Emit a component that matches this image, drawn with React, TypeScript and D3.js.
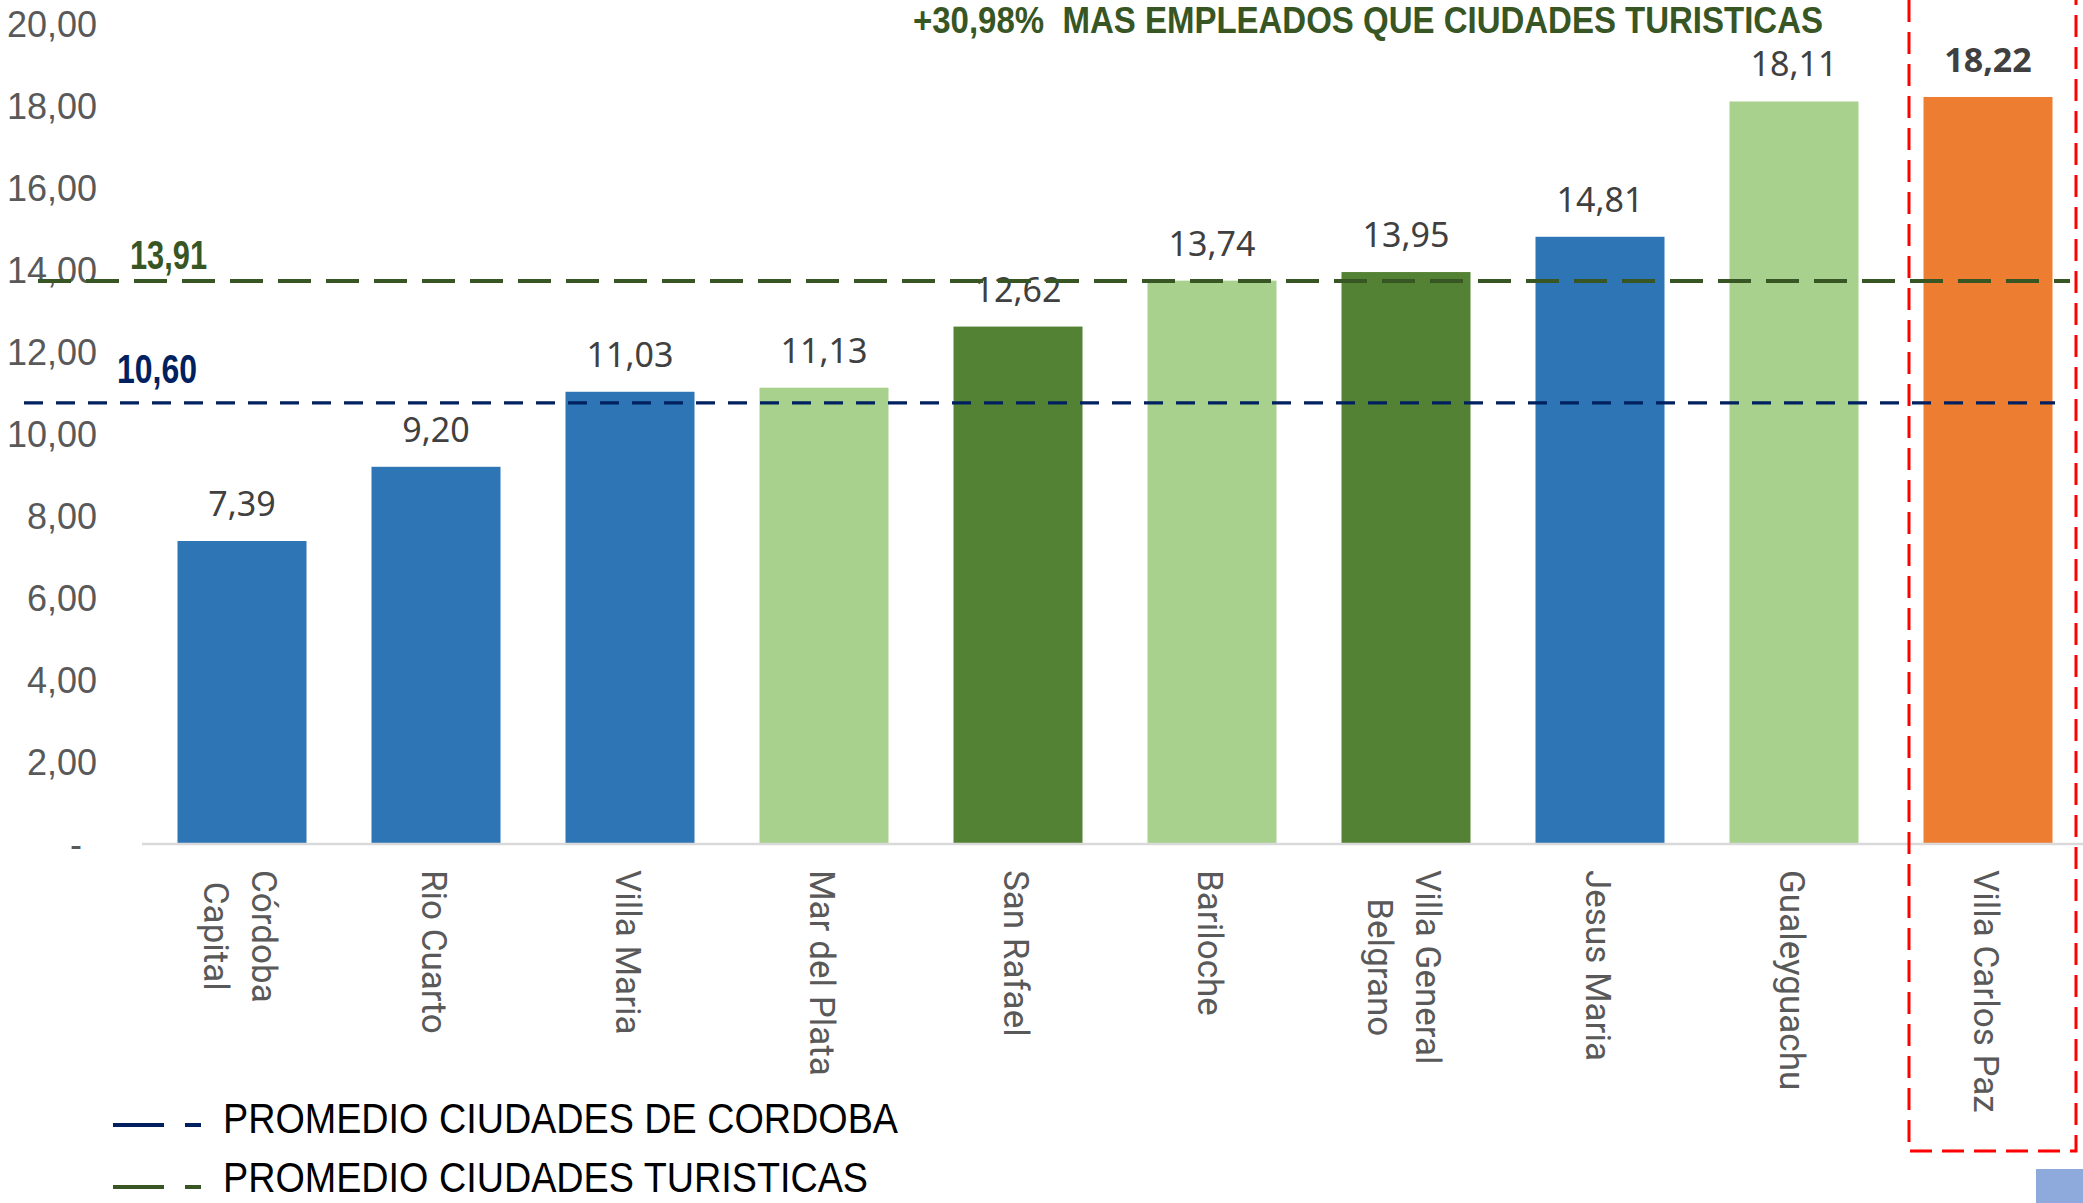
import React, { useRef, useEffect } from 'react';
import * as d3 from 'd3';

// datos del grafico
const cities = [
    'Córdoba Capital',
    'Rio Cuarto',
    'Villa Maria',
    'Mar del Plata',
    'San Rafael',
    'Bariloche',
    'Villa General Belgrano',
    'Jesus Maria',
    'Gualeyguachu',
    'Villa Carlos Paz',
];
const cityLabelLines = [
    ['Córdoba', 'Capital'],
    ['Rio Cuarto'],
    ['Villa Maria'],
    ['Mar del Plata'],
    ['San Rafael'],
    ['Bariloche'],
    ['Villa General', 'Belgrano'],
    ['Jesus Maria'],
    ['Gualeyguachu'],
    ['Villa Carlos Paz'],
];
const values = [7.39, 9.2, 11.03, 11.13, 12.62, 13.74, 13.95, 14.81, 18.11, 18.22];
const groups = ['cordoba', 'cordoba', 'cordoba', 'turClara', 'turOscura', 'turClara', 'turOscura', 'cordoba', 'turClara', 'destacada'];
const yTicks = [0, 2, 4, 6, 8, 10, 12, 14, 16, 18, 20];

const promedioCordoba = 10.6;
const promedioTuristicas = 13.91;
// en el original las lineas de promedio estan dibujadas algo corridas respecto a su etiqueta
const nivelLineaCordoba = 10.76;
const nivelLineaTuristicas = 13.73;

const titulo = '+30,98%  MAS EMPLEADOS QUE CIUDADES TURISTICAS';
const legendItems = ['PROMEDIO CIUDADES DE CORDOBA', 'PROMEDIO CIUDADES TURISTICAS'];

const groupColors = {
    cordoba: '#2E75B6',
    turClara: '#A9D18E',
    turOscura: '#548235',
    destacada: '#ED7D31',
};

const W = 2083;
const H = 1203;
const narrow = '"Liberation Sans Narrow", "Arial Narrow", "Liberation Sans", Arial, sans-serif';
const fmt = (v) => v.toFixed(2).replace('.', ',');

const App = () => {
    const svgRef = useRef(null);

    useEffect(() => {
        if (!svgRef.current) {
            return;
        }
        const svg = d3.select(svgRef.current);
        svg.selectAll('*').remove();

        const xScale = d3
            .scaleBand()
            .domain(cities)
            .range([145, W + 2])
            .paddingInner(0.335)
            .paddingOuter(0.1675);

        const yScale = d3.scaleLinear().domain([0, 20]).range([844, 24]);

        // eje y (solo etiquetas)
        svg.append('g')
            .selectAll('text')
            .data(yTicks)
            .join('text')
            .attr('x', d => (d === 0 ? 82 : 97))
            .attr('y', d => yScale(d))
            .attr('dy', '0.35em')
            .attr('text-anchor', 'end')
            .style('font-family', '"Liberation Sans", Arial, sans-serif')
            .style('font-size', '36px')
            .style('fill', '#595959')
            .text(d => (d === 0 ? '-' : fmt(d)));

        // barras
        svg.append('g')
            .selectAll('rect')
            .data(values)
            .join('rect')
            .attr('x', (d, i) => xScale(cities[i]))
            .attr('y', d => yScale(d))
            .attr('width', xScale.bandwidth())
            .attr('height', d => yScale(0) - yScale(d))
            .style('fill', (d, i) => groupColors[groups[i]]);

        // linea del eje x
        svg.append('line')
            .attr('x1', 142)
            .attr('x2', W)
            .attr('y1', yScale(0))
            .attr('y2', yScale(0))
            .style('stroke', '#D9D9D9')
            .style('stroke-width', 2.5);

        // etiquetas de valores
        svg.append('g')
            .selectAll('text')
            .data(values)
            .join('text')
            .attr('x', (d, i) => xScale(cities[i]) + xScale.bandwidth() / 2)
            .attr('y', d => yScale(d) - 25)
            .attr('text-anchor', 'middle')
            .style('font-family', '"Noto Sans", "Open Sans", sans-serif')
            .style('font-size', '34px')
            .style('font-weight', (d, i) => (groups[i] === 'destacada' ? 'bold' : 'normal'))
            .style('fill', '#404040')
            .text(d => fmt(d));

        // lineas de promedio
        svg.append('line')
            .attr('x1', 24)
            .attr('x2', 2055)
            .attr('y1', yScale(nivelLineaCordoba))
            .attr('y2', yScale(nivelLineaCordoba))
            .style('stroke', '#002060')
            .style('stroke-width', 3.3)
            .style('stroke-dasharray', '19,13');

        svg.append('line')
            .attr('x1', 38)
            .attr('x2', 2070)
            .attr('y1', yScale(nivelLineaTuristicas))
            .attr('y2', yScale(nivelLineaTuristicas))
            .style('stroke', '#375623')
            .style('stroke-width', 4)
            .style('stroke-dasharray', '33,15');

        svg.append('text')
            .attr('x', 130)
            .attr('y', yScale(nivelLineaTuristicas) - 12)
            .attr('textLength', 77)
            .attr('lengthAdjust', 'spacingAndGlyphs')
            .style('font-family', narrow)
            .style('font-size', '40px')
            .style('font-weight', 'bold')
            .style('fill', '#375623')
            .text(fmt(promedioTuristicas));

        svg.append('text')
            .attr('x', 117)
            .attr('y', yScale(nivelLineaCordoba) - 20)
            .attr('textLength', 80)
            .attr('lengthAdjust', 'spacingAndGlyphs')
            .style('font-family', narrow)
            .style('font-size', '40px')
            .style('font-weight', 'bold')
            .style('fill', '#002060')
            .text(fmt(promedioCordoba));

        // categorias rotadas
        const lineH = 48;
        const catGroups = svg.append('g')
            .selectAll('g')
            .data(cityLabelLines)
            .join('g')
            .attr('transform', (d, i) => `translate(${xScale(cities[i]) + xScale.bandwidth() / 2 - 2},870) rotate(90)`);

        catGroups.each(function (lines) {
            const g = d3.select(this);
            const texts = g.selectAll('text')
                .data(lines)
                .join('text')
                .attr('y', (d, j) => (j - (lines.length - 1) / 2) * lineH)
                .attr('dy', '0.35em')
                .style('font-family', 'Roboto, sans-serif')
                .style('font-size', '35px')
                .style('fill', '#595959')
                .text(d => d);
            const lens = texts.nodes().map(n => n.getComputedTextLength());
            const maxLen = d3.max(lens);
            texts.attr('x', (d, j) => (maxLen - lens[j]) / 2);
        });

        // titulo
        svg.append('text')
            .attr('x', 913)
            .attr('y', 33)
            .attr('textLength', 910)
            .attr('lengthAdjust', 'spacingAndGlyphs')
            .attr('xml:space', 'preserve')
            .style('white-space', 'pre')
            .style('font-family', narrow)
            .style('font-size', '37px')
            .style('font-weight', 'bold')
            .style('fill', '#375623')
            .text(titulo);

        // recuadro rojo
        svg.append('rect')
            .attr('x', 1909)
            .attr('y', -10)
            .attr('width', 167)
            .attr('height', 1161)
            .style('fill', 'none')
            .style('stroke', '#FF0000')
            .style('stroke-width', 3)
            .style('stroke-dasharray', '22,10');

        // leyenda
        const legendColors = ['#002060', '#375623'];
        const legendY = [1125, 1187];
        const legendTextY = [1133, 1192];
        const legendLen = [675, 645];
        const legend = svg.append('g')
            .selectAll('g')
            .data(legendItems)
            .join('g');
        legend.append('line')
            .attr('x1', 113).attr('x2', 164)
            .attr('y1', (d, i) => legendY[i]).attr('y2', (d, i) => legendY[i])
            .style('stroke', (d, i) => legendColors[i])
            .style('stroke-width', 4);
        legend.append('line')
            .attr('x1', 185).attr('x2', 201)
            .attr('y1', (d, i) => legendY[i]).attr('y2', (d, i) => legendY[i])
            .style('stroke', (d, i) => legendColors[i])
            .style('stroke-width', 4);
        legend.append('text')
            .attr('x', 223)
            .attr('y', (d, i) => legendTextY[i])
            .attr('textLength', (d, i) => legendLen[i])
            .attr('lengthAdjust', 'spacingAndGlyphs')
            .style('font-family', narrow)
            .style('font-size', '42px')
            .style('fill', '#000000')
            .text(d => d);

        // cuadradito azul abajo a la derecha
        svg.append('rect')
            .attr('x', 2036)
            .attr('y', 1169)
            .attr('width', 47)
            .attr('height', 34)
            .style('fill', '#8EA9DB');
    }, []);

    return (
        <svg
            ref={svgRef}
            width={W}
            height={H}
            style={{ position: 'absolute', left: 0, top: 0, background: '#fff', display: 'block' }}
        ></svg>
    );
};

export default App;
